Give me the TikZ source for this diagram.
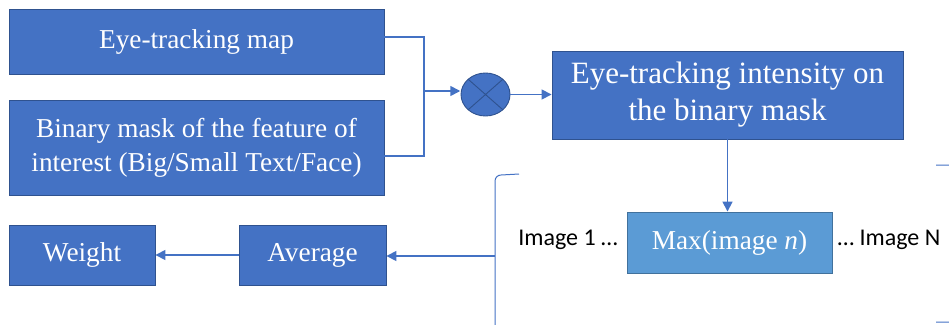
\documentclass[tikz,border=0pt]{standalone}
\usepackage{fontspec}
\setmainfont{Liberation Serif}
\newfontfamily\labelfont{Carlito}
\usetikzlibrary{arrows.meta,shapes.geometric}

\definecolor{boxfill}{HTML}{4472C4}
\definecolor{boxedge}{HTML}{2F528F}
\definecolor{lightfill}{HTML}{5B9BD5}
\definecolor{lightedge}{HTML}{41719C}
\definecolor{wirecol}{HTML}{4472C4}

\tikzset{
  x=1pt, y=-1pt,
  block/.style={draw=boxedge, fill=boxfill, line width=0.9pt, text=white,
    align=center, inner sep=0pt, font=\fontsize{27.3}{34}\selectfont},
  lightblock/.style={block, draw=lightedge, fill=lightfill},
  wire/.style={draw=wirecol, line width=1.6pt},
  arrow/.style={wire, -{Triangle[length=10pt,width=10pt]}},
  bracket/.style={draw=wirecol, line width=1pt},
  plain/.style={font=\labelfont\fontsize{24}{28}\selectfont, inner sep=0pt}
}

\begin{document}
\begin{tikzpicture}
  \useasboundingbox (0,0) rectangle (949,324);
  \clip (0,0) rectangle (949,324);

  % input blocks
  \node[block, minimum width=375pt, minimum height=65pt] (map) at (196.5,41.5) {Eye-tracking map};
  \node[block, minimum width=375pt, minimum height=95pt] (mask) at (196.5,147.5)
    {Binary mask of the feature of\\interest (Big/Small Text/Face)};

  % multiplication
  \node[ellipse, draw=boxedge, fill=boxfill, line width=0.9pt,
        minimum width=49pt, minimum height=43pt, inner sep=0pt] (mul) at (485.5,94.5) {};
  \draw[boxedge, line width=0.9pt] (mul.north west) -- (mul.south east)
                                   (mul.north east) -- (mul.south west);

  % product block
  \node[block, minimum width=351pt, minimum height=88pt,
        font=\fontsize{31}{37}\selectfont] (inten) at (727.5,95)
    {Eye-tracking intensity on\\the binary mask};

  % per-image maximum
  \node[lightblock, minimum width=205pt, minimum height=61pt] (maxn) at (729.5,242.5)
    {Max(image \textit{n})};
  \node[plain] (img1) at (568,240) {Image 1 …};
  \node[plain] (imgN) at (889,240) {… Image N};

  % outputs
  \node[block, minimum width=147pt, minimum height=60pt] (avg) at (312.5,255) {Average};
  \node[block, minimum width=146pt, minimum height=60pt] (wt) at (82,255) {Weight};

  % joining the two inputs
  \coordinate (bus) at (424,91);
  \draw[wire] ([yshift=4.5pt]map.east) -| (bus) |- ([yshift=-8.5pt]mask.east);
  \draw[arrow] (bus) -- ([yshift=3.5pt,xshift=-0.3pt]mul.west);
  \draw[arrow] (mul.east) -- (inten.west |- mul.east);
  \draw[arrow] (inten.south) -- (inten.south |- maxn.north);

  % brackets around the image sequence
  \coordinate (brk) at (495,256);
  \draw[bracket] (519,174) -- (501,175) to[out=180,in=90] (495,181) -- (495,330);
  \draw[bracket] (936,165) -- (950,165) to[out=0,in=90] (957,171) -- (957,316)
                 to[out=-90,in=0] (950,322) -- (936,322);

  % averaging and weight
  \draw[arrow] (brk) -- (avg.east |- brk);
  \draw[arrow] (avg.west) -- (wt.east);
\end{tikzpicture}
\end{document}
